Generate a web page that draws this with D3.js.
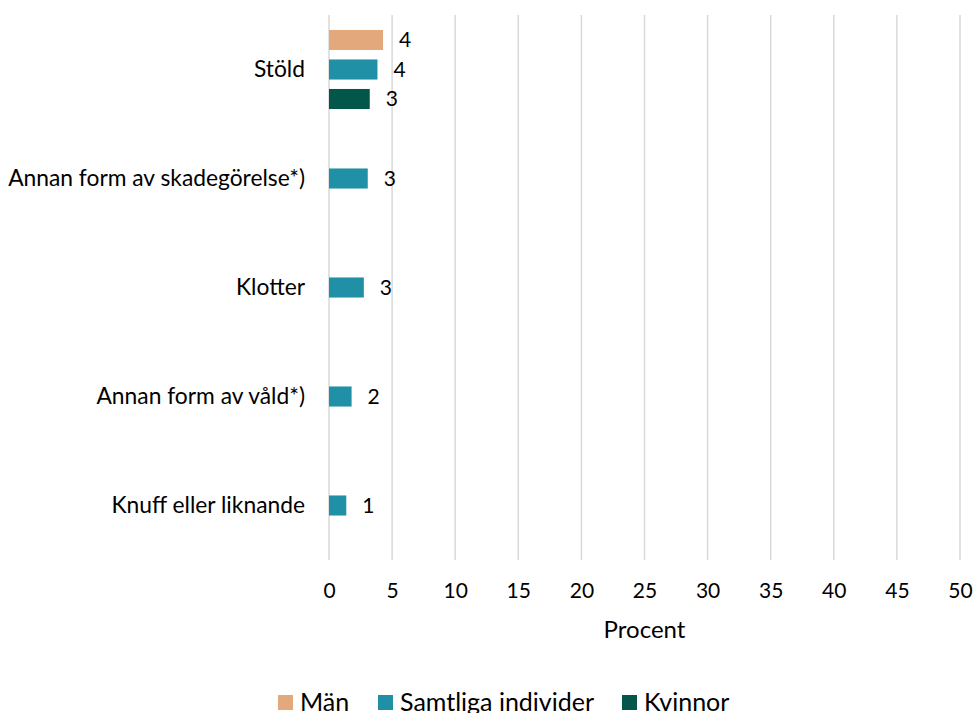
<!DOCTYPE html>
<html>
<head>
<meta charset="utf-8">
<script src="https://cdn.jsdelivr.net/npm/d3@7"></script>
<style>
	body { margin: 0; background: #fff; }
	svg text { font-family: Lato, "Open Sans", sans-serif; fill: #000; }
</style>
</head>
<body>
<svg id="chart" width="974" height="713"></svg>
<script>

// categories, top to bottom
const categories = ["Stöld", "Annan form av skadegörelse*)", "Klotter", "Annan form av våld*)", "Knuff eller liknande"];
const seriesNames = ["Män", "Samtliga individer", "Kvinnor"];
const seriesColors = ["#E3A87B", "#2090A7", "#03574A"];

// percent values, null where no bar is shown
const manValues = [4.28, null, null, null, null];
const allValues = [3.84, 3.07, 2.76, 1.79, 1.37];
const womenValues = [3.23, null, null, null, null];

const xTicks = [0, 5, 10, 15, 20, 25, 30, 35, 40, 45, 50];

//////////////////////////////////////////////////////////////////////

const svg = d3.select("#chart");
const plot = {left: 329, right: 960, top: 15, bottom: 560};

const x = d3.scaleLinear().domain([0, 50]).range([plot.left, plot.right]);
const y = d3.scaleBand().domain(categories).range([plot.top, plot.bottom]);
const ySeries = d3.scaleBand()
	.domain(seriesNames)
	.range([y.bandwidth() / 2 - 44.25, y.bandwidth() / 2 + 44.25])
	.paddingInner(0.32)
	.paddingOuter(0.16);

// grid lines
svg.append("g")
	.selectAll("line")
	.data(xTicks)
	.join("line")
	.attr("x1", d => x(d))
	.attr("x2", d => x(d))
	.attr("y1", plot.top)
	.attr("y2", plot.bottom)
	.attr("stroke", "#D9D9D9")
	.attr("stroke-width", 1.5);

// x axis labels
const xAxis = d3.axisBottom(x).tickValues(xTicks).tickSize(0).tickPadding(0);
svg.append("g")
	.attr("transform", "translate(0," + 591 + ")")
	.call(xAxis)
	.call(g => g.select(".domain").remove())
	.selectAll("text")
	.attr("y", 0)
	.attr("dy", "0.35em")
	.style("font-size", "21px")
	.style("font-family", "Lato, 'Open Sans', sans-serif");

// category labels
svg.append("g")
	.selectAll("text")
	.data(categories)
	.join("text")
	.attr("x", 305)
	.attr("y", d => y(d) + y.bandwidth() / 2)
	.attr("dy", "0.35em")
	.attr("text-anchor", "end")
	.style("font-size", "22.8px")
	.text(d => d);

// bars
const seriesData = [manValues, allValues, womenValues];
const rows = [];
seriesData.forEach((values, si) => {
	values.forEach((v, ci) => {
		if (v !== null) {
			rows.push({cat: categories[ci], series: seriesNames[si], color: seriesColors[si], value: v});
		}
	});
});

svg.append("g")
	.selectAll("rect")
	.data(rows)
	.join("rect")
	.attr("x", x(0))
	.attr("y", d => y(d.cat) + ySeries(d.series))
	.attr("width", d => x(d.value) - x(0))
	.attr("height", ySeries.bandwidth())
	.attr("fill", d => d.color);

// data labels
svg.append("g")
	.selectAll("text")
	.data(rows)
	.join("text")
	.attr("x", d => x(d.value) + 16)
	.attr("y", d => y(d.cat) + ySeries(d.series) + ySeries.bandwidth() / 2)
	.attr("dy", "0.35em")
	.style("font-size", "21px")
	.text(d => Math.round(d.value));

// axis title
svg.append("text")
	.attr("x", (plot.left + plot.right) / 2)
	.attr("y", 638)
	.attr("text-anchor", "middle")
	.style("font-size", "24px")
	.text("Procent");

// legend
const legendX = [278, 378, 622];
const legend = svg.append("g")
	.selectAll("g")
	.data(seriesNames)
	.join("g")
	.attr("transform", (d, i) => "translate(" + legendX[i] + ",695)");

legend.append("rect")
	.attr("width", 15)
	.attr("height", 15)
	.attr("fill", (d, i) => seriesColors[i]);

legend.append("text")
	.attr("x", 22)
	.attr("y", 16)
	.style("font-size", "25px")
	.text(d => d);

</script>
</body>
</html>
